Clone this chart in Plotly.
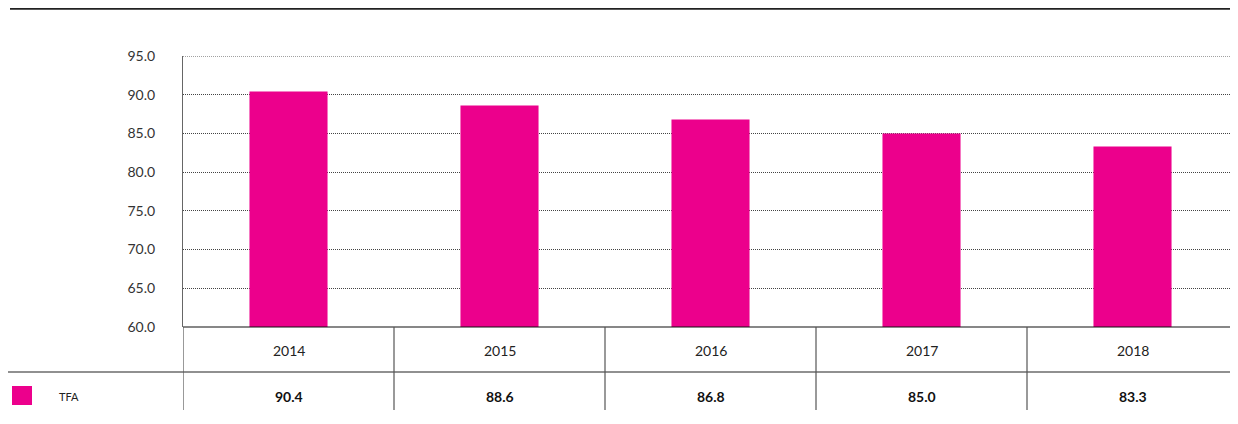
import plotly.graph_objects as go

years = ["2014", "2015", "2016", "2017", "2018"]
tfa_values = [90.4, 88.6, 86.8, 85.0, 83.3]
series_name = "TFA"
y_ticks = [60, 65, 70, 75, 80, 85, 90, 95]

OFF = 8  # page body margin
W, H = 1238 - OFF, 424 - OFF
L, R, T, B = 183 - OFF, 0, 56 - OFF, 97
pw, ph = W - L - R, H - T - B

def px_x(px):
    return (px - OFF - L) / pw

def px_y(py):
    return 1 - (py - OFF - T) / ph

MAG = "#EC008C"
FONT = "Lato, 'Open Sans', sans-serif"
GRID_DASH = "1px,1px"

fig = go.Figure()
fig.add_trace(go.Bar(x=list(range(len(years))), y=tfa_values, base=0,
                     marker=dict(color=MAG, line=dict(width=0)),
                     width=0.37, name=series_name, showlegend=False,
                     hoverinfo="x+y"))

shapes = []
annotations = []
# top gridline (at range edge)
shapes.append(dict(type="line", xref="paper", yref="y", x0=0, x1=1, y0=y_ticks[-1], y1=y_ticks[-1],
                   line=dict(color="#444", width=1, dash=GRID_DASH)))
# top rule (as close to the top of the page as the figure allows)
shapes.append(dict(type="line", xref="paper", yref="paper", x0=px_x(10), x1=px_x(1245),
                   y0=px_y(8.9), y1=px_y(8.9), line=dict(color="#222", width=1.6)))
# bottom of plot rule
shapes.append(dict(type="line", xref="paper", yref="paper", x0=0, x1=1,
                   y0=0, y1=0, line=dict(color="#111", width=1.2)))
# row separator
shapes.append(dict(type="line", xref="paper", yref="paper", x0=px_x(0), x1=1,
                   y0=px_y(372), y1=px_y(372), line=dict(color="#222", width=1.2)))
# vertical separators
for i in range(len(years)):
    shapes.append(dict(type="line", xref="x", yref="paper", x0=i - 0.5, x1=i - 0.5,
                       y0=0, y1=px_y(410), line=dict(color="#555", width=1.2)))
# legend swatch
shapes.append(dict(type="rect", xref="paper", yref="paper", x0=px_x(12), x1=px_x(32),
                   y0=px_y(386), y1=px_y(405), fillcolor=MAG, line=dict(width=0)))
annotations.append(dict(text=series_name, xref="paper", yref="paper", x=px_x(57), y=px_y(396),
                        xanchor="left", yanchor="middle", showarrow=False,
                        font=dict(family=FONT, size=11, color="#222")))
for i, (yr, v) in enumerate(zip(years, tfa_values)):
    annotations.append(dict(text=yr, xref="x", yref="paper", x=i, y=px_y(350),
                            xanchor="center", yanchor="middle", showarrow=False,
                            font=dict(family=FONT, size=14, color="#222")))
    annotations.append(dict(text=f"<b>{v:.1f}</b>", xref="x", yref="paper", x=i, y=px_y(396),
                            xanchor="center", yanchor="middle", showarrow=False,
                            font=dict(family=FONT, size=14, color="#111")))

fig.update_layout(
    width=W, height=H,
    margin=dict(l=L, r=R, t=T, b=B, pad=0),
    paper_bgcolor="white", plot_bgcolor="white",
    shapes=shapes, annotations=annotations,
    xaxis=dict(range=[-0.5, len(years) - 0.5], showticklabels=False, showgrid=False,
               zeroline=False, showline=False, fixedrange=True),
    yaxis=dict(range=[60, 95], tickvals=y_ticks, tickformat=".1f",
               showgrid=True, gridcolor="#444", griddash=GRID_DASH, gridwidth=1,
               zeroline=False, showline=True, linecolor="#666", linewidth=1.2,
               ticks="", ticklabelstandoff=24,
               tickfont=dict(family=FONT, size=14, color="#333"), fixedrange=True),
    font=dict(family=FONT),
)

fig.write_html("out.html")
